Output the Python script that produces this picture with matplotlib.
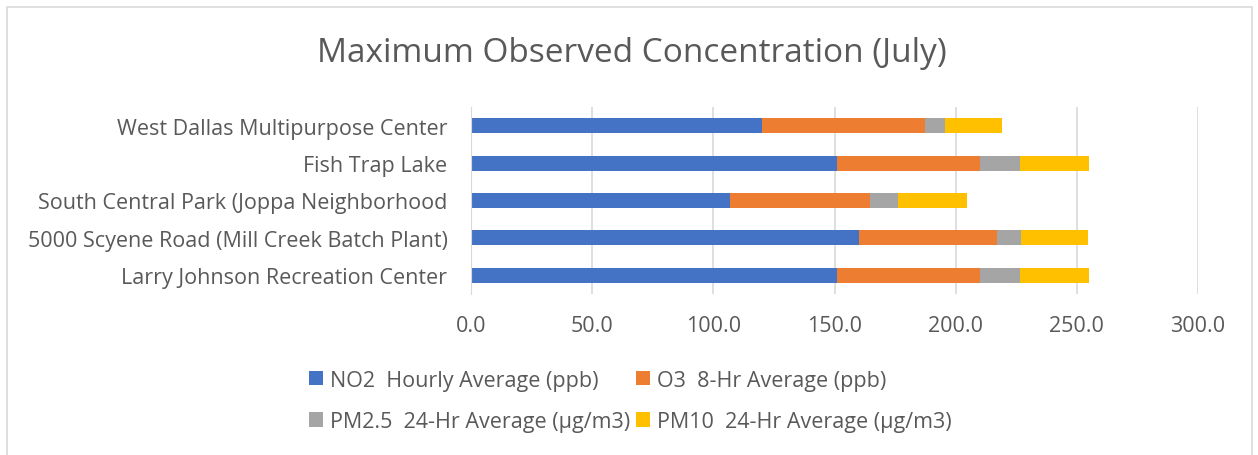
import matplotlib
matplotlib.use("Agg")
import matplotlib.pyplot as plt
import numpy as np
from matplotlib.patches import Rectangle

plt.rcParams['font.family'] = ['Open Sans', 'DejaVu Sans']

sites = ["Larry Johnson Recreation Center",
         "5000 Scyene Road (Mill Creek Batch Plant)",
         "South Central Park (Joppa Neighborhood",
         "Fish Trap Lake",
         "West Dallas Multipurpose Center"]
no2 = [151.0, 160.0, 107.0, 151.0, 120.0]
o3 = [59.0, 57.0, 57.5, 59.0, 67.5]
pm25 = [16.5, 10.0, 11.5, 16.5, 8.0]
pm10 = [28.5, 27.5, 28.5, 28.5, 23.5]

series = ["NO2  Hourly Average (ppb)", "O3  8-Hr Average (ppb)",
          "PM2.5  24-Hr Average (µg/m3)", "PM10  24-Hr Average (µg/m3)"]
colors = ["#4472C4", "#ED7D31", "#A5A5A5", "#FFC000"]
xticks = [0, 50, 100, 150, 200, 250, 300]

txt = "#595959"
fs = 15.5

fig = plt.figure(figsize=(12.58, 4.56), dpi=100)
ax = fig.add_axes([471/1258, 1 - 295/456, (1198-471)/1258, (295-108)/456])

y = np.arange(len(sites))
left = np.zeros(len(sites))
handles = []
for vals, lab, c in zip([no2, o3, pm25, pm10], series, colors):
    h = ax.barh(y, vals, left=left, height=0.4, color=c, label=lab)
    handles.append(h)
    left = left + np.array(vals)

ax.set_xlim(0, 300)
ax.set_ylim(-0.5, len(sites) - 0.5)
ax.set_xticks(xticks)
ax.set_xticklabels(["%.1f" % v for v in xticks])
ax.set_yticks(y)
ax.set_yticklabels(sites)
ax.tick_params(axis='x', length=0, pad=15, labelsize=fs, labelcolor=txt)
ax.tick_params(axis='y', length=0, pad=17, labelsize=fs, labelcolor=txt)
ax.grid(axis='x', color="#D9D9D9", linewidth=1.2)
ax.set_axisbelow(True)
for s in ["top", "right", "bottom"]:
    ax.spines[s].set_visible(False)
ax.spines["left"].set_color("#D9D9D9")

fig.text(632/1258, 1 - 53/456, "Maximum Observed Concentration (July)",
         ha="center", va="center", fontsize=24, color=txt)

order = [0, 2, 1, 3]
leg = fig.legend([handles[i] for i in order], [series[i] for i in order],
                 ncol=2, loc="center left", bbox_to_anchor=(290/1258, 1 - 402/456),
                 frameon=False, fontsize=fs, handlelength=0.65, handleheight=0.65,
                 handletextpad=0.3, columnspacing=0.3, labelspacing=0.95,
                 labelcolor=txt)

fig.patches.append(Rectangle((7/1258, -0.05), (1252-7)/1258, 1.05 - 8/456,
                             transform=fig.transFigure, fill=False,
                             edgecolor="#D9D9D9", linewidth=1.2))

fig.savefig("out.png", dpi=100)
